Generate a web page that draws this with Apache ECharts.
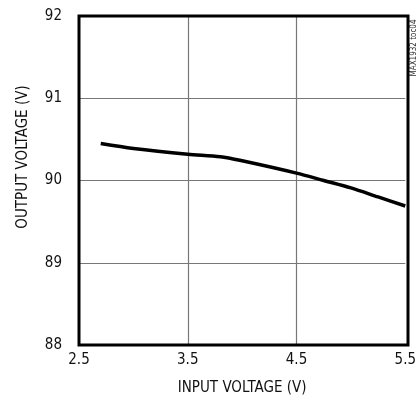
<!DOCTYPE html>
<html><head><meta charset="utf-8">
<script src="https://cdn.jsdelivr.net/npm/echarts@6/dist/echarts.min.js"></script>
<style>html,body{margin:0;padding:0;background:#fff}#c{width:419px;height:408px}</style>
</head><body><div id="c"></div>
<script>
const inputVoltage = [2.7, 3.0, 3.5, 3.8, 4.0, 4.5, 4.75, 5.0, 5.25, 5.5];
const outputVoltage = [90.45, 90.39, 90.32, 90.29, 90.24, 90.09, 90.0, 89.91, 89.80, 89.69];
const xTicks = [2.5, 3.5, 4.5, 5.5];
const yTicks = [88, 89, 90, 91, 92];

const FONT = '"Liberation Sans Narrow", "DejaVu Sans Condensed", "Roboto Condensed", sans-serif';
const chart = echarts.init(document.getElementById('c'), null, {renderer: 'canvas'});
chart.setOption({
  animation: false,
  backgroundColor: '#fff',
  grid: {left: 79, right: 11, top: 16, bottom: 63, show: false},
  xAxis: {
    type: 'value', min: xTicks[0], max: xTicks[xTicks.length - 1], interval: 1,
    axisLine: {show: false}, axisTick: {show: false},
    axisLabel: {color: '#111', fontFamily: FONT, fontSize: 15, margin: 8, formatter: v => v.toFixed(1)},
    splitLine: {show: true, showMinLine: false, showMaxLine: false, lineStyle: {color: ['#777', '#777', '#111', '#777'], width: 1.2}},
    name: 'INPUT VOLTAGE (V)', nameLocation: 'middle', nameGap: 36,
    nameTextStyle: {color: '#111', fontFamily: FONT, fontSize: 15}
  },
  yAxis: {
    type: 'value', min: yTicks[0], max: yTicks[yTicks.length - 1], interval: 1,
    axisLine: {show: false}, axisTick: {show: false},
    axisLabel: {color: '#111', fontFamily: FONT, fontSize: 15, margin: 17},
    splitLine: {show: true, showMinLine: false, showMaxLine: false, lineStyle: {color: '#777', width: 1.2}}
  },
  graphic: [
    {type: 'rect', shape: {x: 79, y: 16, width: 329, height: 329}, z: 10,
     style: {fill: null, stroke: '#000', lineWidth: 3}},
    {type: 'text', rotation: Math.PI / 2, position: [23, 157],
     style: {text: 'OUTPUT VOLTAGE (V)', fill: '#111', font: '15px ' + FONT, align: 'center', verticalAlign: 'middle', x: 0, y: 0}},
    {type: 'text', rotation: Math.PI / 2, position: [414, 48],
     style: {text: 'MAX1932 toc04', fill: '#333', font: '8px ' + FONT, align: 'center', verticalAlign: 'middle', x: 0, y: 0}}
  ],
  series: [{
    type: 'line', data: inputVoltage.map((x, i) => [x, outputVoltage[i]]),
    showSymbol: false, smooth: 0.3, lineStyle: {color: '#000', width: 3.5}, clip: false
  }]
});
</script></body></html>
